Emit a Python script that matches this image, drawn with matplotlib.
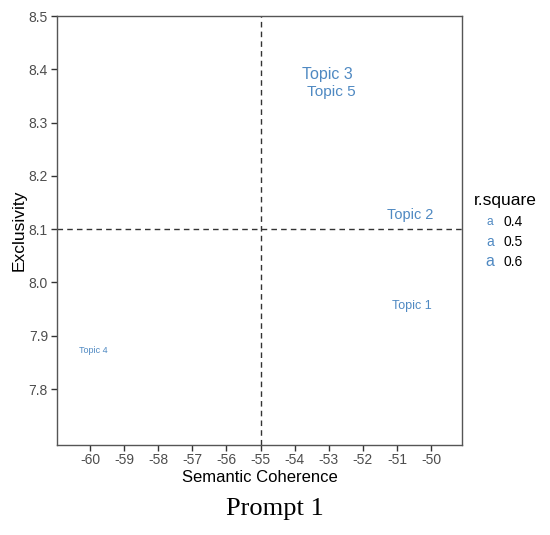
import matplotlib
matplotlib.use("Agg")
import matplotlib.pyplot as plt

topics = ["Topic 1", "Topic 2", "Topic 3", "Topic 4", "Topic 5"]
coherence = [-50.57, -50.6, -53.04, -59.9, -52.92]
exclusivity = [7.956, 8.127, 8.390, 7.873, 8.357]
rsquare = [0.43, 0.53, 0.61, 0.25, 0.58]
legend_values = [0.4, 0.5, 0.6]
x_ticks = [-60, -59, -58, -57, -56, -55, -54, -53, -52, -51, -50]
y_ticks = [7.8, 7.9, 8.0, 8.1, 8.2, 8.3, 8.4, 8.5]

color = "#4f89c2"
grey = "#4d4d4d"

def fsize(r):
    return 3.0 + 14.0 * r

fig = plt.figure(figsize=(5.5, 5.35), dpi=100)
ax = fig.add_axes([57/550, 1-445/535, (462-57)/550, (445-16)/535])

for t, x, y, r in zip(topics, coherence, exclusivity, rsquare):
    ax.text(x, y, t, color=color, fontsize=fsize(r), ha="center", va="center",
            family="Liberation Sans")

ax.axvline(-55, color="#333333", lw=1, ls=(0, (4, 3)))
ax.axhline(8.1, color="#333333", lw=1, ls=(0, (4, 3)))

ax.set_xlim(-60.97, -49.09)
ax.set_ylim(7.695, 8.5)
ax.set_xticks(x_ticks)
ax.set_xticklabels([str(v) for v in x_ticks])
ax.set_yticks(y_ticks)
ax.set_yticklabels([f"{v:.1f}" for v in y_ticks])
ax.tick_params(direction="out", length=4, width=1, color="#333333",
               labelcolor=grey, labelsize=10, pad=1.5)
ax.tick_params(axis="y", pad=2.5)
for lab in ax.get_xticklabels() + ax.get_yticklabels():
    lab.set_family("Liberation Sans")
for s in ax.spines.values():
    s.set_color("#555555")
    s.set_linewidth(1)

ax.set_xlabel("Semantic Coherence", fontsize=12, family="Liberation Sans")
ax.set_ylabel("Exclusivity", fontsize=12.5, family="Liberation Sans")
ax.xaxis.label.set_va("baseline")
ax.xaxis.set_label_coords(0.5, -(482 - 445) / 429)
ax.yaxis.set_label_coords((27 - 57) / 405, 0.5)

# legend
fig.text(474/550, 1-200/535, "r.square", fontsize=12.5, ha="left", va="center",
         family="Liberation Sans")
for i, v in enumerate(legend_values):
    yy = 1 - (222 + 20*i)/535
    fig.text(490/550, yy, "a", color=color, fontsize=fsize(v), ha="center",
             va="center", family="Liberation Sans")
    fig.text(503/550, yy, f"{v:.1f}", fontsize=10, ha="left", va="center",
             family="Liberation Sans")

fig.text(0.5, 1-509/535, "Prompt 1", fontsize=19, ha="center", va="center",
         family="Liberation Serif")

fig.savefig("out.png", dpi=100)
